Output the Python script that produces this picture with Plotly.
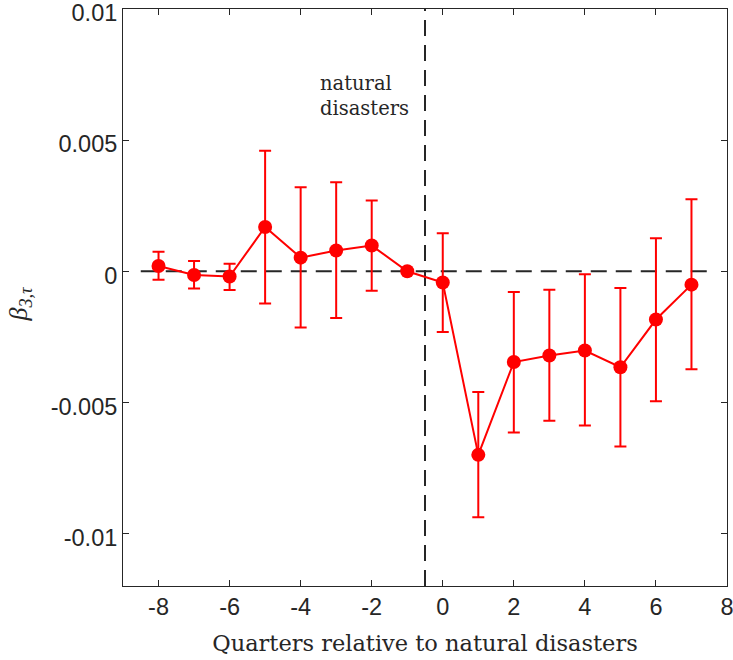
import plotly.graph_objects as go

quarters = [-8, -7, -6, -5, -4, -3, -2, -1, 0, 1, 2, 3, 4, 5, 6, 7]
beta = [0.0002, -0.00014, -0.0002, 0.00169, 0.00052, 0.00079, 0.00098, 0.0,
        -0.00043, -0.0070, -0.00346, -0.00321, -0.00302, -0.00366, -0.00184, -0.00051]
upper = [0.00074, 0.00039, 0.00029, 0.0046, 0.0032, 0.00339, 0.0027, 0.0,
         0.00145, -0.0046, -0.00079, -0.0007, -0.00011, -0.00064, 0.00126, 0.00275]
lower = [-0.00032, -0.00066, -0.00071, -0.00123, -0.00214, -0.00178, -0.00074, 0.0,
         -0.00232, -0.00938, -0.00615, -0.0057, -0.00588, -0.00668, -0.00496, -0.00374]

err_plus = [u - b for u, b in zip(upper, beta)]
err_minus = [b - l for b, l in zip(beta, lower)]

event_x = -0.5
x_range = [-9, 8]
y_range = [-0.012, 0.01]
x_ticks = [-8, -6, -4, -2, 0, 2, 4, 6, 8]
x_ticktext = ["-8", "-6", "-4", "-2", "0", "2", "4", "6", "8"]
y_ticks = [-0.01, -0.005, 0, 0.005, 0.01]
y_ticktext = ["-0.01", "-0.005", "0", "0.005", "0.01"]

fig = go.Figure()

# zero reference line
fig.add_trace(go.Scatter(
    x=[-8.5, 7.5], y=[0, 0], mode="lines",
    line=dict(color="#262626", width=2, dash="16px,9px"),
    hoverinfo="skip", showlegend=False))
# event line
fig.add_trace(go.Scatter(
    x=[event_x, event_x], y=y_range, mode="lines",
    line=dict(color="#262626", width=2, dash="16px,9px"),
    hoverinfo="skip", showlegend=False))

fig.add_trace(go.Scatter(
    x=quarters, y=beta, mode="lines+markers",
    line=dict(color="#ff0000", width=2),
    marker=dict(color="#ff0000", size=14),
    error_y=dict(type="data", symmetric=False, array=err_plus, arrayminus=err_minus,
                 color="#ff0000", thickness=2, width=6),
    showlegend=False))

fig.add_annotation(
    x=-3.52, y=0.0067, xref="x", yref="y", text="natural<br>disasters",
    showarrow=False, align="left", xanchor="left", yanchor="middle",
    font=dict(family="DejaVu Serif, Liberation Serif, serif", size=19.5, color="#262626"))

fig.add_annotation(
    x=-0.2, y=0.49, xref="paper", yref="paper",
    text="<i>β</i><sub><i>3,τ</i></sub>",
    showarrow=False, textangle=-90,
    font=dict(family="Liberation Serif, DejaVu Serif, serif", size=26, color="#262626"))

axis_common = dict(
    showline=True, linecolor="#262626", linewidth=1, mirror="ticks",
    ticks="inside", ticklen=6, tickcolor="#262626", showgrid=False, zeroline=False,
    ticklabeloverflow="allow", automargin=False,
    tickfont=dict(family="Liberation Sans, Arial, sans-serif", size=23.5, color="#262626"))

fig.update_xaxes(range=x_range, tickvals=x_ticks, ticktext=x_ticktext,
                 title=dict(text="Quarters relative to natural disasters", standoff=16,
                            font=dict(family="DejaVu Serif, Liberation Serif, serif",
                                      size=22.5, color="#262626")),
                 **axis_common)
fig.update_yaxes(range=[y_range[0], y_range[1] + 1e-8], tickvals=y_ticks,
                 ticktext=y_ticktext, ticklabelshift=4, **axis_common)

fig.update_layout(
    width=733, height=660,
    margin=dict(l=123, r=6, t=9, b=74),
    plot_bgcolor="white", paper_bgcolor="white",
)

fig.write_html("out.html")
